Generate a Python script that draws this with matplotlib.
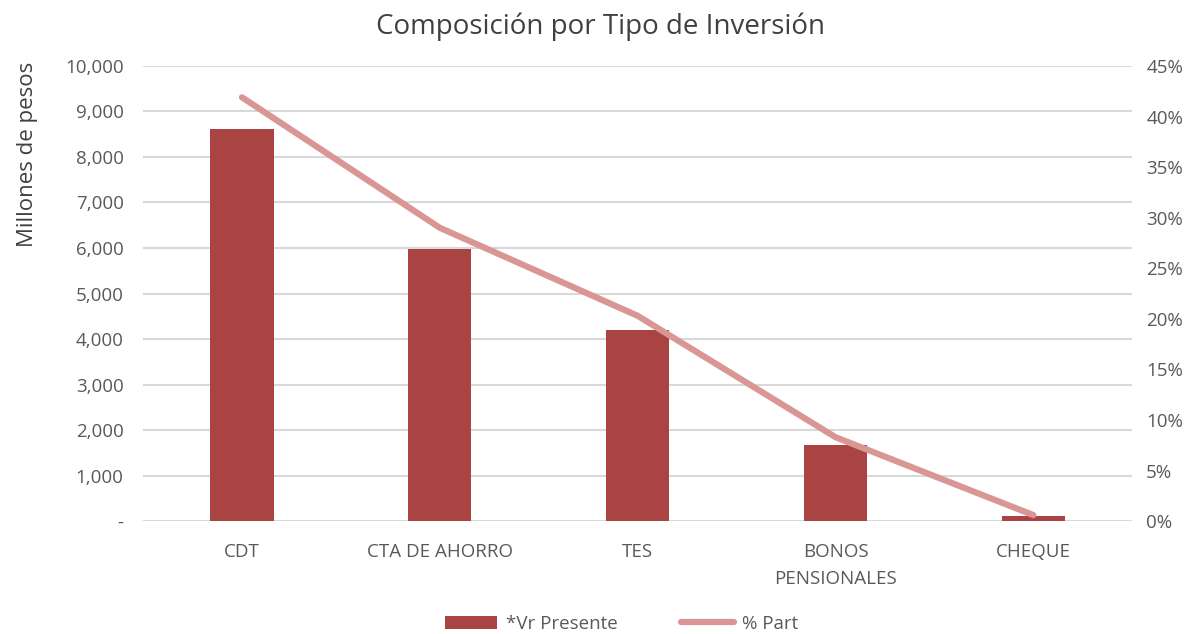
import matplotlib.pyplot as plt
from matplotlib.ticker import FuncFormatter, MultipleLocator

plt.rcParams['font.family'] = ['Open Sans', 'DejaVu Sans']

categorias = ["CDT", "CTA DE AHORRO", "TES", "BONOS\nPENSIONALES", "CHEQUE"]
vr_presente = [8615, 5978, 4198, 1670, 110]
pct_part = [41.9, 29.0, 20.3, 8.3, 0.6]

gris = "#595959"
fig = plt.figure(figsize=(12.02, 6.34), dpi=100)
ax = fig.add_axes([0.119, 0.178, 0.823, 0.718])
ax2 = ax.twinx()

x = range(len(categorias))
ax.bar(x, vr_presente, width=0.32, color="#A94442", label="*Vr Presente", zorder=2)
ax2.plot(x, pct_part, color="#D99694", lw=4.5, solid_capstyle="round", label="% Part", zorder=3)

ax.set_xlim(-0.5, 4.5)
ax.set_ylim(0, 10000)
ax2.set_ylim(0, 45)
ax.yaxis.set_major_locator(MultipleLocator(1000))
ax2.yaxis.set_major_locator(MultipleLocator(5))
ax.yaxis.set_major_formatter(FuncFormatter(lambda v, p: "-" if v == 0 else f"{v:,.0f}"))
ax2.yaxis.set_major_formatter(FuncFormatter(lambda v, p: f"{v:.0f}%"))
ax.set_xticks(list(x))
ax.set_xticklabels(categorias, va="top", linespacing=1.6)

ax.grid(axis="y", color="#D9D9D9", lw=1.5, zorder=0)
ax.set_axisbelow(True)
for a in (ax, ax2):
    for s in a.spines.values():
        s.set_visible(False)
    a.tick_params(length=0, labelsize=13.5, colors=gris)
ax.tick_params(axis="x", pad=16)
ax.tick_params(axis="y", pad=14)
ax2.tick_params(axis="y", pad=10)

ax.set_ylabel("Millones de pesos", fontsize=16, color="#404040", loc="top")
ax.yaxis.set_label_coords(-0.106, 1.01)
fig.suptitle("Composición por Tipo de Inversión", fontsize=20, color="#404040", y=0.98)

h1, l1 = ax.get_legend_handles_labels()
h2, l2 = ax2.get_legend_handles_labels()
leg = fig.legend(h1 + h2, l1 + l2, loc="lower center", ncol=2, frameon=False,
                 bbox_to_anchor=(0.517, -0.025), fontsize=13.5, handlelength=2.8,
                 handletextpad=0.45, columnspacing=3.4, labelcolor=gris)

fig.savefig("out.png", dpi=100)
